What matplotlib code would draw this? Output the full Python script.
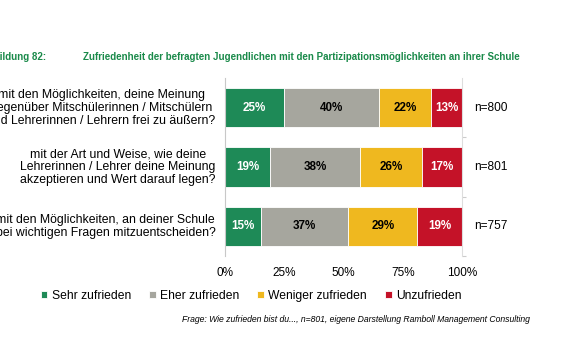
import matplotlib.pyplot as plt
import numpy as np

plt.rcParams['font.family'] = ['Liberation Sans', 'DejaVu Sans']

fragen = [
    "mit den Möglichkeiten, deine Meinung\ngegenüber Mitschülerinnen / Mitschülern\nund Lehrerinnen / Lehrern frei zu äußern?",
    "mit der Art und Weise, wie deine\nLehrerinnen / Lehrer deine Meinung\nakzeptieren und Wert darauf legen?",
    "mit den Möglichkeiten, an deiner Schule\nbei wichtigen Fragen mitzuentscheiden?",
]
kategorien = ["Sehr zufrieden", "Eher zufrieden", "Weniger zufrieden", "Unzufrieden"]
sehr = [25, 19, 15]
eher = [40, 38, 37]
weniger = [22, 26, 29]
unzufrieden = [13, 17, 19]
n_werte = ["n=800", "n=801", "n=757"]
ticks = [0, 25, 50, 75, 100]

farben = ["#1e8a57", "#a6a69e", "#efb81f", "#c41228"]
textfarben = ["white", "black", "black", "white"]

fig = plt.figure(figsize=(5.8, 3.57), dpi=100)
ax = fig.add_axes([0.388, 0.283, 0.409, 0.4985])

y = np.arange(len(fragen))
links = np.zeros(len(fragen))
for werte, farbe, tf, kat in zip([sehr, eher, weniger, unzufrieden], farben, textfarben, kategorien):
    ax.barh(y, werte, left=links, height=0.66, color=farbe, label=kat,
            edgecolor="white", linewidth=0.6)
    for i, w in enumerate(werte):
        ax.text(links[i] + w / 2, y[i], f"{w}%", ha="center", va="center",
                color=tf, fontsize=8.4, fontweight="bold")
    links += np.array(werte)

ax.set_xlim(0, 100)
ax.set_ylim(2.5, -0.5)
ax.set_xticks(ticks)
ax.set_xticklabels([f"{t}%" for t in ticks], fontsize=8.5)
ax.tick_params(axis="x", length=0, pad=8)
ax.set_yticks([0.5, 1.5, 2.5])
ax.set_yticklabels([])
ax.tick_params(axis="y", length=3, color="#cccccc", left=False, right=True)
for s in ["top", "bottom"]:
    ax.spines[s].set_visible(False)
ax.spines["left"].set_color("#c8c8c8")
ax.spines["right"].set_color("#dddddd")

for i, t in enumerate(fragen):
    ax.text(-4, y[i], t, ha="right", va="center", fontsize=8.8,
            multialignment="center", linespacing=1.1)
    ax.text(105, y[i], n_werte[i], ha="left", va="center", fontsize=8.6)

fig.text(0.08, 0.84, "Abbildung 82:", ha="right", va="center", fontsize=7,
         color="#1a8a4a", fontweight="bold")
fig.text(0.143, 0.84, "Zufriedenheit der befragten Jugendlichen mit den Partizipationsmöglichkeiten an ihrer Schule",
         ha="left", va="center", fontsize=7, color="#1a8a4a", fontweight="bold")

fig.legend(loc="center left", bbox_to_anchor=(0.07, 0.171), ncol=4, frameon=False,
           fontsize=8.75, handlelength=0.55, handleheight=0.55, handletextpad=0.35,
           columnspacing=1.5, borderaxespad=0, borderpad=0)

fig.text(0.914, 0.104, "Frage: Wie zufrieden bist du..., n=801, eigene Darstellung Ramboll Management Consulting",
         ha="right", va="center", fontsize=6.2, style="italic")

fig.savefig("out.png", dpi=100)
